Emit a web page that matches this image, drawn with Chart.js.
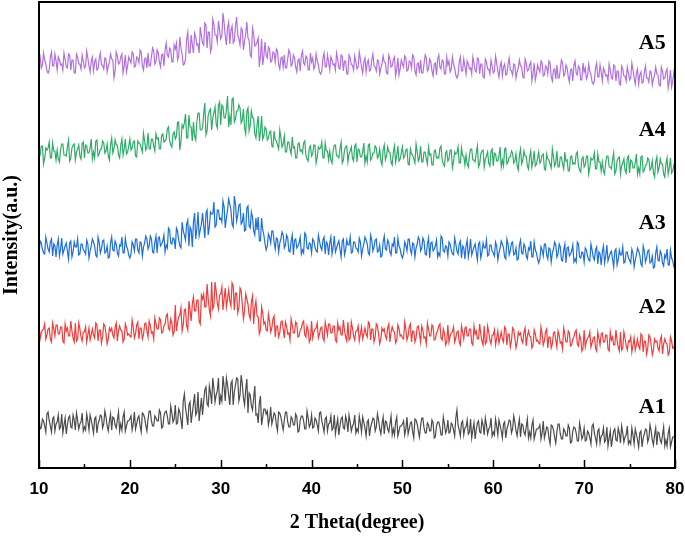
<!DOCTYPE html>
<html>
<head>
<meta charset="utf-8">
<script src="https://cdn.jsdelivr.net/npm/chart.js@4.4.1/dist/chart.umd.min.js"></script>
<style>
  html, body { margin: 0; padding: 0; background: #fff; }
  #wrap { width: 685px; height: 536px; }
</style>
</head>
<body>
<div id="wrap"><canvas id="xrd" width="685" height="536"></canvas></div>
<script>
// 2 theta sampling (degrees)
const thetaStart = 10;
const thetaStep = 0.125;

// intensity (a.u.), each pattern already stacked on its own offset; one row = 1 degree
const a1 = [
  52,39,40,49,47,42,36,54, 56,47,42,36,49,51,37,44, 46,53,39,41,54,35,43,50, 34,43,50,52,41,40,53,48, 38,55,48,39,44,46,55,37,
  41,38,54,47,38,53,48,42, 35,49,51,35,44,48,53,52, 40,44,57,51,42,37,47,54, 38,51,50,43,40,48,56,37, 44,38,51,56,37,42,47,47,
  49,52,38,44,56,39,44,50, 52,42,36,55,54,50,43,37, 49,57,57,47,42,42,52,50, 47,47,58,55,40,41,52,56, 57,52,44,44,62,55,46,49,
  63,44,45,59,56,48,39,67, 74,60,52,43,63,66,45,55, 64,74,53,56,76,47,59,70, 53,67,78,81,64,62,82,75, 64,90,80,66,73,77,90,63,
  72,67,92,81,67,90,83,73, 63,84,87,63,76,83,90,89, 67,73,93,84,70,63,78,89, 55,75,73,62,58,70,82,53, 54,45,65,72,43,51,59,59,
  54,57,43,49,61,44,49,55, 53,43,37,56,55,51,44,38, 48,56,56,46,41,41,51,49, 43,43,54,51,36,37,48,52, 52,47,39,39,57,50,41,44,
  53,40,41,50,48,43,37,55, 56,47,42,36,49,51,37,44, 45,52,38,40,53,34,42,49, 33,42,49,51,40,39,52,47, 36,53,46,37,42,44,53,35,
  39,36,52,45,36,51,46,40, 32,46,48,32,41,45,50,49, 37,41,54,48,39,34,44,51, 34,47,46,39,36,44,52,33, 39,33,46,51,32,37,42,42,
  44,47,33,39,51,34,39,45, 46,36,30,49,48,44,37,31, 42,50,50,40,35,35,45,43, 37,37,48,45,30,31,42,46, 46,41,33,33,51,44,35,38,
  48,35,36,45,43,38,32,50, 58,43,38,32,45,47,33,40, 41,48,34,36,49,30,38,45, 29,38,45,47,36,35,48,43, 33,50,43,34,39,41,50,32,
  36,33,49,42,33,48,43,37, 30,44,46,30,39,43,48,47, 35,39,52,46,37,32,42,49, 31,44,43,36,33,41,49,30, 36,30,43,48,29,34,39,39,
  40,43,29,35,47,30,35,41, 40,30,24,43,42,38,31,25, 36,44,44,34,29,29,39,37, 32,32,43,40,25,26,37,41, 40,35,27,27,45,38,29,32,
  40,27,28,37,35,30,24,42, 44,35,30,24,37,39,25,32, 33,40,26,28,41,22,30,37, 21,30,37,39,28,27,40,35, 25,42,35,26,31,33,42,24,
  27,24,40,33,24,39,34,28, 21,35,37,21,30,34,39,38, 26,30,43,37,28,23,33,40, 23,36,35,28,25,33,41,22, 28,22,35,40,21,26,31,31,
  33];

const a2 = [
  146,129,135,138,139,144,129,133, 139,140,129,126,145,139,132,143, 143,134,134,141,141,127,125,144, 137,140,132,132,147,137,130,126, 145,127,129,145,139,131,127,136,
  136,141,126,133,140,128,133,139, 133,130,145,143,127,138,138,125, 131,144,142,134,124,129,140,137, 140,133,130,141,145,127,137,142, 138,137,126,129,144,140,133,134,
  132,131,148,141,130,134,143,146, 129,140,140,129,133,144,145,137, 131,147,143,135,136,129,150,144, 139,139,150,148,135,136,142,144, 152,154,140,138,149,145,133,136,
  163,137,146,151,153,160,137,143, 158,159,142,138,167,158,147,164, 171,157,157,168,168,147,144,173, 169,174,161,161,184,169,158,152, 186,159,162,186,177,165,159,173,
  174,181,158,169,180,161,169,178, 167,162,185,182,158,175,175,155, 160,180,177,164,149,157,174,169, 164,153,149,166,172,144,160,167, 152,151,134,138,161,155,144,146,
  138,137,154,147,136,140,149,152, 131,142,142,131,135,146,147,139, 130,146,142,134,135,128,149,143, 135,135,146,144,131,132,138,140, 145,147,133,131,142,138,126,129,
  147,130,136,139,140,145,130,134, 140,141,130,127,146,140,133,144, 144,135,135,142,142,128,126,145, 138,141,133,133,148,138,131,127, 146,128,130,146,140,132,128,137,
  137,142,127,134,141,129,134,140, 134,131,146,144,128,139,139,126, 131,144,142,134,124,129,140,137, 139,132,129,140,144,126,136,141, 137,136,125,128,143,139,132,133,
  130,129,146,139,128,132,141,144, 126,137,137,126,130,141,142,134, 126,142,138,130,131,124,145,139, 132,132,143,141,128,129,135,137, 142,144,130,128,139,135,123,126,
  143,126,132,135,136,141,126,130, 136,137,126,123,142,136,129,140, 141,132,132,139,139,125,123,142, 134,137,129,129,144,134,127,123, 142,124,126,142,136,128,124,133,
  133,138,123,130,137,125,130,136, 129,126,141,139,123,134,134,121, 127,140,138,130,120,125,136,133, 135,128,125,136,140,122,132,137, 132,131,120,123,138,134,127,128,
  125,124,141,134,123,127,136,139, 120,131,131,120,124,135,136,128, 121,137,133,125,126,119,140,134, 126,126,137,135,122,123,129,131, 136,138,124,122,133,129,117,120,
  138,121,127,130,131,136,121,125, 130,131,120,117,136,130,123,134, 135,126,126,133,133,119,117,136, 128,131,123,123,138,128,121,117, 136,118,120,136,130,122,118,127,
  126,131,116,123,130,118,123,129, 122,119,134,132,116,127,127,114, 120,133,131,123,113,118,129,126, 127,120,117,128,132,114,124,129, 125,124,113,116,131,127,120,121,
  117];

const a3 = [
  213,227,225,219,215,214,231,225, 219,216,226,229,212,224,222,211, 223,229,212,219,230,214,218,222, 225,217,209,225,227,211,216,226, 221,221,229,213,214,224,224,218,
  217,214,228,224,210,217,222,229, 226,222,213,211,231,226,215,219, 227,228,215,216,222,210,211,225, 231,218,217,227,224,215,212,223, 222,231,215,215,230,222,219,213,
  210,214,226,223,217,229,229,218, 215,226,225,212,221,225,232,229, 219,222,232,229,216,215,226,232, 215,230,231,222,224,227,233,216, 223,220,240,238,225,224,230,229,
  219,240,237,228,222,220,246,237, 233,228,244,248,222,241,238,221, 246,255,229,239,256,232,238,244, 255,242,230,255,258,233,241,256, 254,254,266,241,243,258,258,249,
  250,246,267,261,240,250,258,269, 264,258,244,241,272,264,247,253, 263,264,244,246,255,237,238,260, 262,242,240,256,251,237,233,250, 238,251,227,227,250,238,233,224,
  218,222,234,231,225,237,237,226, 219,230,229,216,225,229,236,233, 220,223,233,230,217,216,227,233, 213,228,229,220,222,225,231,214, 218,215,235,233,220,219,225,224,
  215,229,227,221,217,216,233,227, 221,218,228,231,214,226,224,213, 225,231,214,221,232,216,220,224, 227,219,211,227,229,213,218,228, 223,223,231,215,216,226,226,220,
  219,216,230,226,212,219,224,231, 228,224,215,213,233,228,217,221, 228,229,216,217,223,211,212,226, 232,219,218,228,225,216,213,224, 222,231,215,215,230,222,219,213,
  210,214,226,223,217,229,229,218, 214,225,224,211,220,224,231,228, 217,220,230,227,214,213,224,230, 210,225,226,217,219,222,228,211, 215,212,232,230,217,216,222,221,
  212,226,224,218,214,213,230,224, 217,214,224,227,210,222,220,209, 222,228,211,218,229,213,217,221, 224,216,208,224,226,210,215,225, 220,220,228,212,213,223,223,217,
  215,212,226,222,208,215,220,227, 224,220,211,209,229,224,213,217, 225,226,213,214,220,208,209,223, 228,215,214,224,221,212,209,220, 218,227,211,211,226,218,215,209,
  205,209,221,218,212,224,224,213, 209,220,219,206,215,219,226,223, 211,214,224,221,208,207,218,224, 205,220,221,212,214,217,223,206, 209,206,226,224,211,210,216,215,
  206,220,218,212,208,207,224,218, 211,208,218,221,204,216,214,203, 216,222,205,212,223,207,211,215, 217,209,201,217,219,203,208,218, 213,213,221,205,206,216,216,210,
  208,205,219,215,201,208,213,220, 217,213,204,202,222,217,206,210, 217,218,205,206,212,200,201,215, 221,208,207,217,214,205,202,213, 210,219,203,203,218,210,207,201,
  200];

const a4 = [
  311,313,322,322,304,310,320,318, 320,326,310,310,325,317,317,308, 318,309,306,318,324,324,313,313, 312,321,328,307,310,320,323,324, 308,316,319,323,312,309,324,326,
  310,323,322,315,315,320,329,309, 316,310,327,328,312,314,319,319, 327,325,315,317,324,312,308,323, 330,315,319,328,323,323,313,310, 323,329,313,319,329,314,316,322,
  329,318,320,326,327,312,311,327, 325,324,320,316,335,327,318,321, 335,319,319,329,329,322,317,334, 329,330,319,319,333,334,326,327, 329,339,341,327,323,321,334,336,
  329,332,346,346,318,327,343,340, 345,354,330,330,353,341,341,327, 346,332,328,346,355,355,338,338, 340,354,365,333,337,353,357,359, 338,350,355,361,344,340,363,366,
  343,363,361,350,350,358,372,341, 352,343,369,370,346,349,357,357, 363,360,345,348,359,340,334,357, 360,337,343,357,350,350,334,330, 343,352,327,336,352,329,332,341,
  339,328,330,336,337,322,321,337, 328,327,323,319,338,330,321,324, 332,316,316,326,326,319,314,331, 320,321,310,310,324,325,317,318, 315,325,327,313,309,307,320,322,
  312,314,323,323,305,311,321,319, 320,326,310,310,325,317,317,308, 317,308,305,317,323,323,312,312, 310,319,326,305,308,318,321,322, 306,314,317,321,310,307,322,324,
  306,319,318,311,311,316,325,305, 312,306,323,324,308,310,315,315, 322,320,310,312,319,307,303,318, 323,308,312,321,316,316,306,303, 316,322,306,312,322,307,309,315,
  321,310,312,318,319,304,303,319, 314,313,309,305,324,316,307,310, 322,306,306,316,316,309,304,321, 313,314,303,303,317,318,310,311, 310,320,322,308,304,302,315,317,
  307,309,318,318,300,306,316,314, 315,321,305,305,320,312,312,303, 313,304,301,313,319,319,308,308, 306,315,322,301,304,314,317,318, 301,309,312,316,305,302,317,319,
  302,315,314,307,307,312,321,301, 308,302,319,320,304,306,311,311, 317,315,305,307,314,302,298,313, 319,304,308,317,312,312,302,299, 311,317,301,307,317,302,304,310,
  316,305,307,313,314,299,298,314, 309,308,304,300,319,311,302,305, 317,301,301,311,311,304,299,316, 307,308,297,297,311,312,304,305, 304,314,316,302,298,296,309,311,
  301,303,312,312,294,300,310,308, 309,315,299,299,314,306,306,297, 306,297,294,306,312,312,301,301, 299,308,315,294,297,307,310,311, 294,302,305,309,298,295,310,312,
  295,308,307,300,300,305,314,294, 300,294,311,312,296,298,303,303, 310,308,298,300,307,295,291,306, 311,296,300,309,304,304,294,291, 304,310,294,300,310,295,297,303,
  306];

const a5 = [
  407,411,400,403,415,408,404,397, 395,398,411,416,402,402,414,407, 398,411,408,403,404,398,415,409, 401,400,414,413,398,408,408,395, 395,414,411,404,404,399,413,407,
  400,402,417,410,402,396,407,411, 397,406,409,398,399,409,415,403, 403,399,410,409,396,402,406,414, 409,408,390,397,416,412,404,405, 411,414,395,402,413,396,402,411,
  408,405,416,414,401,402,411,410, 405,418,416,402,398,409,410,400, 415,402,402,411,420,417,404,406, 418,415,406,401,413,414,402,418, 425,413,411,420,418,406,406,423,
  419,425,408,412,431,420,414,403, 404,409,429,436,415,415,433,423, 415,435,431,423,424,415,441,432, 425,423,445,443,420,436,436,416, 420,449,444,433,433,426,447,438,
  429,432,455,445,432,423,440,446, 424,438,442,425,427,442,451,433, 429,423,440,438,418,427,434,446, 430,428,413,411,440,434,422,423, 426,430,401,412,429,403,412,426,
  413,410,421,419,406,407,416,415, 406,419,417,403,399,410,411,401, 413,400,400,409,418,415,402,404, 413,410,401,396,408,409,397,413, 417,405,403,412,410,398,398,415,
  406,410,399,402,414,407,403,396, 394,397,410,415,401,401,413,406, 398,411,408,403,404,398,415,409, 400,399,413,412,397,407,407,394, 394,413,410,403,403,398,412,406,
  399,401,416,409,401,395,406,410, 396,405,408,397,398,408,414,402, 401,397,408,407,394,400,404,412, 406,405,395,394,413,409,401,402, 408,411,392,399,410,393,399,408,
  404,401,412,410,397,398,407,406, 400,413,411,397,393,404,405,395, 408,395,395,404,413,410,397,399, 409,406,397,392,404,405,393,409, 413,401,399,408,406,394,394,411,
  403,407,396,399,411,404,400,393, 390,393,406,411,397,397,409,402, 394,407,404,399,400,394,411,405, 397,396,410,409,394,404,404,391, 390,409,406,399,399,394,408,402,
  395,397,412,405,397,391,402,406, 392,401,404,393,394,404,410,398, 397,393,404,403,390,396,400,408, 402,401,391,390,409,405,397,398, 403,406,387,394,405,388,394,403,
  399,396,407,405,392,393,402,401, 394,407,405,391,387,398,399,389, 403,390,390,399,408,405,392,394, 403,400,391,386,398,399,387,403, 407,395,393,402,400,388,388,405,
  396,400,389,392,404,397,393,386, 384,387,400,405,391,391,403,396, 387,400,397,392,393,387,404,398, 390,389,403,402,387,397,397,384, 383,402,399,392,392,387,401,395,
  388,390,405,398,390,384,395,399, 384,393,396,385,386,396,402,390, 390,386,397,396,383,389,393,401, 394,393,383,382,401,397,389,390, 396,399,380,387,398,381,387,396,
  391];

const seriesNames = ['A1', 'A2', 'A3', 'A4', 'A5'];
const seriesValues = [a1, a2, a3, a4, a5];
const tickLabels = [10, 20, 30, 40, 50, 60, 70, 80];
const minorTicks = [15, 25, 35, 45, 55, 65, 75];

const colors = ['#4b4b4b', '#f03c3c', '#1c6fdc', '#2fab68', '#b170e0'];
// where the sample names sit (2theta, intensity)
const nameTheta = 77.5;
const nameLevel = [61, 161, 245, 338, 425];

const datasets = seriesValues.map((vals, k) => ({
    label: seriesNames[k],
    data: vals.map((v, i) => ({ x: thetaStart + i * thetaStep, y: v })),
    borderColor: colors[k],
    borderWidth: 1.2,
    pointRadius: 0,
    tension: 0,
    fill: false
}));

const serif = '"Liberation Serif", "Times New Roman", serif';

// frame, inward ticks, tick labels, sample names and axis titles
const decor = {
    id: 'decor',
    afterDraw(chart) {
        const { ctx, chartArea: a, scales: { x, y } } = chart;
        ctx.save();
        ctx.strokeStyle = '#000';
        ctx.lineWidth = 2;
        ctx.strokeRect(a.left, a.top, a.right - a.left, a.bottom - a.top);

        ctx.lineWidth = 1.5;
        ctx.beginPath();
        tickLabels.forEach(v => {
            const px = Math.round(x.getPixelForValue(v)) + 0.5;
            ctx.moveTo(px, a.bottom);
            ctx.lineTo(px, a.bottom - 8);
        });
        minorTicks.forEach(v => {
            const px = Math.round(x.getPixelForValue(v)) + 0.5;
            ctx.moveTo(px, a.bottom);
            ctx.lineTo(px, a.bottom - 4);
        });
        ctx.stroke();

        ctx.fillStyle = '#000';
        ctx.textAlign = 'center';
        ctx.textBaseline = 'middle';
        ctx.font = 'bold 17px "Liberation Sans", Arial, sans-serif';
        tickLabels.forEach(v => {
            ctx.fillText(String(v), x.getPixelForValue(v), a.bottom + 21);
        });

        ctx.font = 'bold 22px ' + serif;
        seriesNames.forEach((n, i) => {
            ctx.fillText(n, x.getPixelForValue(nameTheta), y.getPixelForValue(nameLevel[i]));
        });

        ctx.font = 'bold 20px ' + serif;
        ctx.fillText('2 Theta(degree)', (a.left + a.right) / 2, 523);

        ctx.translate(12, (a.top + a.bottom) / 2);
        ctx.rotate(-Math.PI / 2);
        ctx.fillText('Intensity(a.u.)', 0, 0);
        ctx.restore();
    }
};

new Chart(document.getElementById('xrd').getContext('2d'), {
    type: 'line',
    data: { datasets: datasets },
    options: {
        responsive: false,
        animation: false,
        layout: { padding: { left: 39, right: 10, top: 2, bottom: 68 } },
        plugins: { legend: { display: false }, tooltip: { enabled: false } },
        scales: {
            x: { type: 'linear', display: false, min: 10, max: 80 },
            y: { display: false, min: 0, max: 466 }
        }
    },
    plugins: [decor]
});
</script>
</body>
</html>
